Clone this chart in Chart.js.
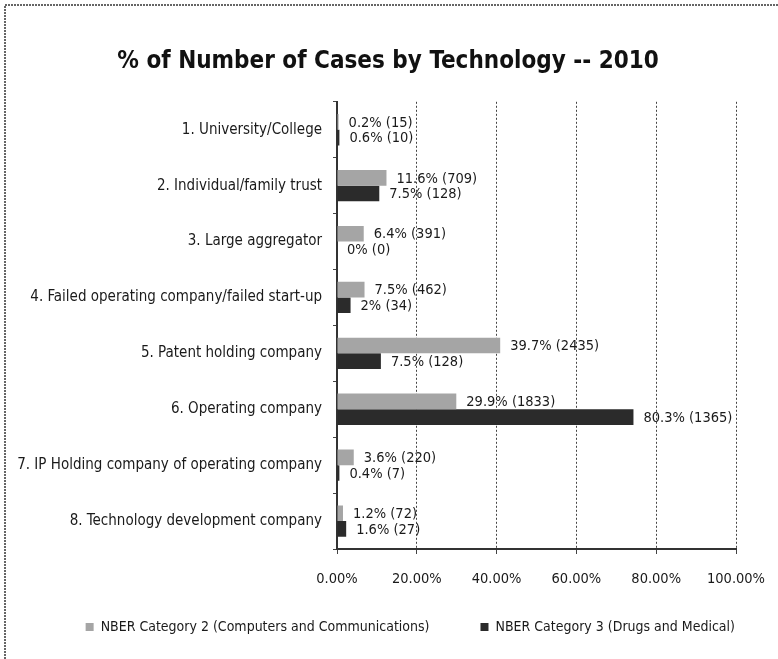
<!DOCTYPE html>
<html>
<head>
<meta charset="utf-8">
<script src="https://cdn.jsdelivr.net/npm/chart.js@4.4.1/dist/chart.umd.min.js"></script>
<style>
html,body{margin:0;padding:0;background:#fff;}
#wrap{width:778px;height:659px;position:relative;}
</style>
</head>
<body>
<div id="wrap"><canvas id="c" width="778" height="659"></canvas></div>
<script>
// Categories
const categories = [
  "1. University/College",
  "2. Individual/family trust",
  "3. Large aggregator",
  "4. Failed operating company/failed start-up",
  "5. Patent holding company",
  "6. Operating company",
  "7. IP Holding company of operating company",
  "8. Technology development company"
];
// Bar lengths as drawn in the picture (percent of axis)
const cat2Values = [0.4, 12.4, 6.7, 6.9, 40.9, 29.9, 4.2, 1.5];
const cat3Values = [0.6, 10.6, 0, 3.4, 11.0, 74.3, 0.6, 2.3];
// Data label texts as printed
const cat2Labels = ["0.2% (15)", "11.6% (709)", "6.4% (391)", "7.5% (462)", "39.7% (2435)", "29.9% (1833)", "3.6% (220)", "1.2% (72)"];
const cat3Labels = ["0.6% (10)", "7.5% (128)", "0% (0)", "2% (34)", "7.5% (128)", "80.3% (1365)", "0.4% (7)", "1.6% (27)"];
// Axis ticks
const xTicks = [0, 20, 40, 60, 80, 100];
const seriesNames = ["NBER Category 2 (Computers and Communications)", "NBER Category 3 (Drugs and Medical)"];
const titleText = "% of Number of Cases by Technology -- 2010";

const FONT = "'Liberation Sans Narrow','DejaVu Sans Condensed','Arial Narrow',Arial,sans-serif";

const frame = {
  id: 'frame',
  beforeDraw(chart) {
    const ctx = chart.ctx;
    ctx.save();
    ctx.strokeStyle = '#666';
    ctx.lineWidth = 2;
    ctx.setLineDash([2, 1]);
    ctx.beginPath();
    ctx.moveTo(5, 659);
    ctx.lineTo(5, 5);
    ctx.lineTo(778, 5);
    ctx.stroke();
    ctx.restore();
  }
};

const dataLabels = {
  id: 'dataLabels',
  afterDatasetsDraw(chart) {
    const ctx = chart.ctx;
    const texts = [cat2Labels, cat3Labels];
    ctx.save();
    ctx.font = "14.5px " + FONT;
    ctx.fillStyle = '#1a1a1a';
    ctx.textAlign = 'left';
    ctx.textBaseline = 'middle';
    chart.data.datasets.forEach((ds, di) => {
      const meta = chart.getDatasetMeta(di);
      meta.data.forEach((el, i) => {
        ctx.fillText(texts[di][i], el.x + 10, el.y + 1);
      });
    });
    ctx.restore();
  }
};

new Chart(document.getElementById('c'), {
  type: 'bar',
  data: {
    labels: categories,
    datasets: [
      { label: seriesNames[0], data: cat2Values, backgroundColor: '#a5a5a5', borderWidth: 0, barPercentage: 1.0, categoryPercentage: 0.56 },
      { label: seriesNames[1], data: cat3Values, backgroundColor: '#2b2b2b', borderWidth: 0, barPercentage: 1.0, categoryPercentage: 0.56 }
    ]
  },
  options: {
    indexAxis: 'y',
    responsive: false,
    animation: false,
    devicePixelRatio: 1,
    layout: { padding: { left: 0, right: 32, top: 0, bottom: 15 } },
    plugins: {
      title: {
        display: true,
        text: "    " + titleText,
        color: '#111',
        font: { family: FONT, size: 24, weight: 'bold' },
        padding: { top: 47, bottom: 26 }
      },
      legend: {
        position: 'bottom',
        align: 'end',
        labels: {
          color: '#1a1a1a',
          font: { family: FONT, size: 14 },
          boxWidth: 8,
          boxHeight: 8,
          padding: 11,
          generateLabels(chart) {
            const items = Chart.defaults.plugins.legend.labels.generateLabels(chart);
            items.forEach((it, i) => { if (i === 0) it.text = it.text + '          '; it.lineWidth = 0; });
            return items;
          }
        }
      },
      tooltip: { enabled: false }
    },
    scales: {
      x: {
        min: 0,
        max: 100,
        afterBuildTicks(scale) { scale.ticks = xTicks.map(v => ({ value: v })); },
        afterFit(scale) { scale.height = 60; scale.paddingRight = 42; scale.paddingLeft = 0; },
        ticks: {
          color: '#1a1a1a',
          font: { family: FONT, size: 14.5 },
          padding: 17,
          callback: v => v.toFixed(2) + '%'
        },
        grid: { color: '#444', lineWidth: 1, tickLength: 5, drawTicks: true },
        border: { display: true, color: '#333', width: 2, dash: [2, 2] }
      },
      y: {
        afterFit(scale) { scale.width = 337; },
        ticks: {
          color: '#1a1a1a',
          font: { family: FONT, size: 15 },
          padding: 11,
          autoSkip: false
        },
        grid: { drawOnChartArea: false, drawTicks: true, tickLength: 4, color: '#444', offset: true },
        border: { display: true, color: '#333', width: 2 }
      }
    }
  },
  plugins: [frame, dataLabels]
});
</script>
</body>
</html>
